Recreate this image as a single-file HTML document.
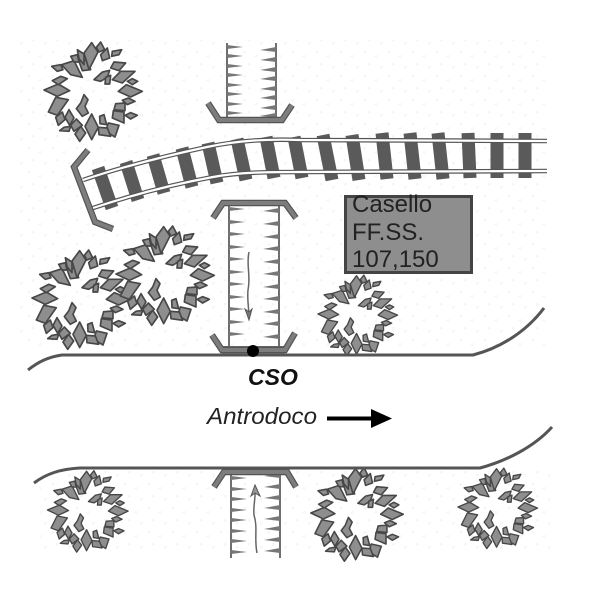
<!DOCTYPE html>
<html><head><meta charset="utf-8"><style>
html,body{margin:0;padding:0;background:#fff}
svg{display:block}
text{font-family:"Liberation Sans",sans-serif}
</style></head><body>
<svg width="600" height="600" viewBox="0 0 600 600" xmlns="http://www.w3.org/2000/svg">
<defs>
<pattern id="spk" width="24" height="24" patternUnits="userSpaceOnUse">
<path d="M3 4h3M5 3v3M15 8h3M16 7v3M8 16h3M9 15v3M20 19h3M21 18v3" stroke="#f3f3f3" stroke-width="1" fill="none"/>
</pattern>
<g id="tree" transform="scale(0.3333) translate(-156,-156)" fill="#8e8e8e" stroke="#474747" stroke-width="5" stroke-linejoin="round">
<polygon points="120,70 145,65 155,95 130,98"/>
<polygon points="158,14 177,42 150,95 135,45"/>
<polygon points="185,12 197,35 180,42 172,28"/>
<polygon points="205,30 212,60 190,68 185,50"/>
<polygon points="248,35 240,50 218,55 220,40"/>
<polygon points="260,75 240,98 215,90 225,72"/>
<polygon points="288,100 250,135 220,125 245,100"/>
<polygon points="296,130 280,140 265,130 280,122"/>
<polygon points="310,160 275,177 238,160 262,140"/>
<polygon points="288,190 265,200 250,187 268,180"/>
<polygon points="258,195 258,218 225,215 230,197"/>
<polygon points="255,222 255,255 220,240 223,218"/>
<polygon points="295,232 275,243 258,232 275,224"/>
<polygon points="240,262 228,297 200,280 208,255"/>
<polygon points="195,230 203,260 183,257 182,235"/>
<polygon points="205,270 215,295 180,290 178,268"/>
<polygon points="158,228 178,268 158,305 138,265"/>
<polygon points="125,265 140,285 122,310 108,288"/>
<polygon points="112,243 130,262 105,280 95,262"/>
<polygon points="90,215 105,240 92,262 78,238"/>
<polygon points="70,222 78,245 58,262 50,238"/>
<polygon points="95,265 90,280 62,278 75,268"/>
<polygon points="50,178 88,185 55,232 28,222"/>
<polygon points="15,156 58,138 92,158 55,175"/>
<polygon points="40,128 65,115 85,122 58,140"/>
<polygon points="38,85 65,80 72,95 55,100"/>
<polygon points="68,80 105,68 130,118 95,110"/>
<polygon points="95,55 115,50 120,72 105,72"/>
<polygon points="115,35 135,48 135,80 120,62"/>
<polygon points="165,125 190,102 212,97 205,118 185,130"/>
<polygon points="200,118 215,112 212,138 198,138"/>
<polygon points="135,170 147,185 138,205 148,225 130,235 112,212 125,195"/>
</g>
</defs>

<rect x="20" y="40" width="525" height="310" fill="url(#spk)"/>
<rect x="40" y="470" width="510" height="85" fill="url(#spk)"/>

<!-- trees -->
<use href="#tree" transform="translate(91,90)"/>
<use href="#tree" transform="translate(79,298)"/>
<use href="#tree" transform="translate(163,274)"/>
<use href="#tree" transform="translate(356,314) scale(.81)"/>
<use href="#tree" transform="translate(86,510) scale(.82)"/>
<use href="#tree" transform="translate(355,513) scale(.94)"/>
<use href="#tree" transform="translate(496,507) scale(.81)"/>

<!-- sleepers -->
<g stroke="#5a5a5a" stroke-width="13" fill="none">
<path d="M98 168L112 208M126 162L138 200M153 155L164 193M182 148L192 187M208 143L217 183M237 139L246 180M266 137L274 178M294 137L302 178M323 135L332 180M352 135L359 180M382 133L387 179M410 133L415 179M438 133L443 179M468 133L470 178M497 133L497 178M525 133L525 178"/>
</g>
<!-- rails -->
<g fill="none">
<path d="M83 180C125 166 165 156 207 147C240 140 270 139 300 140L547 141" stroke="#555" stroke-width="4.6"/>
<path d="M93 208C135 194 175 184 213 177C240 172 270 172 300 172L547 171" stroke="#555" stroke-width="4.6"/>
<path d="M83 180C125 166 165 156 207 147C240 140 270 139 300 140L547 141" stroke="#fff" stroke-width="2.2"/>
<path d="M93 208C135 194 175 184 213 177C240 172 270 172 300 172L547 171" stroke="#fff" stroke-width="2.2"/>
</g>

<!-- casello -->
<rect x="345.500" y="196.500" width="126" height="76" fill="#8e8e8e" stroke="#444" stroke-width="3"/>
<g font-size="24" fill="#222">
<text x="352" y="212">Casello</text>
<text x="352" y="240">FF.SS.</text>
<text x="352" y="267">107,150</text>
</g>

<!-- roads -->
<g fill="none" stroke="#555" stroke-width="3">
<path d="M28 370C38 362 48 357 62 355L473 355C500 348 526 332 544 308"/>
<path d="M34 483C46 474 60 469 80 468L480 468C506 461 534 447 552 427"/>
</g>

<!-- bridge walls -->
<g stroke="#5f5f5f" stroke-width="1.8" fill="none">
<path d="M227 43V118M276 43V118M229 205V347M279 205V347M231 472V558M280 472V558"/>
</g>
<g fill="#777" stroke="none">
<path d="M227 45l16 2-16 2zM227 54l16 2-16 2zM227 64l16 2-16 2zM227 73l16 2-16 2zM227 83l16 2-16 2zM227 92l16 2-16 2zM227 102l16 2-16 2zM227 111l16 2-16 2z"/>
<path d="M276 47l-16 3 16 2zM276 57l-16 3 16 2zM276 67l-16 3 16 2zM276 76l-16 3 16 2zM276 86l-16 3 16 2zM276 95l-16 3 16 2zM276 105l-16 3 16 2zM276 113l-16 3 16 2z"/>
<path d="M229 207l16 2-16 2zM229 220l16 2-16 2zM229 232l16 2-16 2zM229 245l16 2-16 2zM229 257l16 2-16 2zM229 270l16 2-16 2zM229 282l16 2-16 2zM229 295l16 2-16 2zM229 307l16 2-16 2zM229 320l16 2-16 2zM229 332l16 2-16 2z"/>
<path d="M279 208l-16 3 16 2zM279 221l-16 3 16 2zM279 234l-16 3 16 2zM279 246l-16 3 16 2zM279 259l-16 3 16 2zM279 271l-16 3 16 2zM279 284l-16 3 16 2zM279 296l-16 3 16 2zM279 309l-16 3 16 2zM279 321l-16 3 16 2zM279 334l-16 3 16 2z"/>
<path d="M231 476l16 2-16 2zM231 487l16 2-16 2zM231 497l16 2-16 2zM231 508l16 2-16 2zM231 518l16 2-16 2zM231 529l16 2-16 2zM231 539l16 2-16 2zM231 550l16 2-16 2z"/>
<path d="M280 473l-16 3 16 2zM280 484l-16 3 16 2zM280 495l-16 3 16 2zM280 505l-16 3 16 2zM280 516l-16 3 16 2zM280 526l-16 3 16 2zM280 537l-16 3 16 2zM280 548l-16 3 16 2z"/>
</g>

<!-- parapets -->
<rect x="222" y="346" width="63" height="8" fill="#6a6a6a"/>
<g fill="none" stroke-linejoin="miter">
<g stroke="#545454" stroke-width="6.400">
<path d="M208 103L219 120H282L292 105"/>
<path d="M88 150L74 167L95 222L113 229"/>
<path d="M213 218L223 203H285L296 218"/>
<path d="M212 335L222 350H285L295 333"/>
<path d="M214 487L224 472H287L296 487"/>
</g>
<g stroke="#7d7d7d" stroke-width="4">
<path d="M208 103L219 120H282L292 105"/>
<path d="M88 150L74 167L95 222L113 229"/>
<path d="M213 218L223 203H285L296 218"/>
<path d="M212 335L222 350H285L295 333"/>
<path d="M214 487L224 472H287L296 487"/>
</g>
</g>

<!-- flow arrows -->
<g fill="none" stroke="#666" stroke-width="1.5">
<path d="M249 252C246 265 251 275 248 290C247 300 249 308 249 318"/>
<path d="M257 553C254 538 258 528 254 515C253 505 256 498 255 487"/>
</g>
<polygon points="245,309 249,320 252,309 249,312" fill="#777" stroke="#555"/>
<polygon points="251,496 255,485 260,496 255,493" fill="#999" stroke="#555"/>

<circle cx="253" cy="351" r="6" fill="#000"/>

<text x="248" y="385" font-size="23" font-weight="bold" font-style="italic" fill="#111">CSO</text>
<text x="207" y="424" font-size="23" font-style="italic" fill="#222" textLength="110" lengthAdjust="spacingAndGlyphs">Antrodoco</text>
<path d="M327 418.500H373" stroke="#000" stroke-width="4"/>
<polygon points="371,409 392,418.500 371,428" fill="#000"/>
</svg>
</body></html>
